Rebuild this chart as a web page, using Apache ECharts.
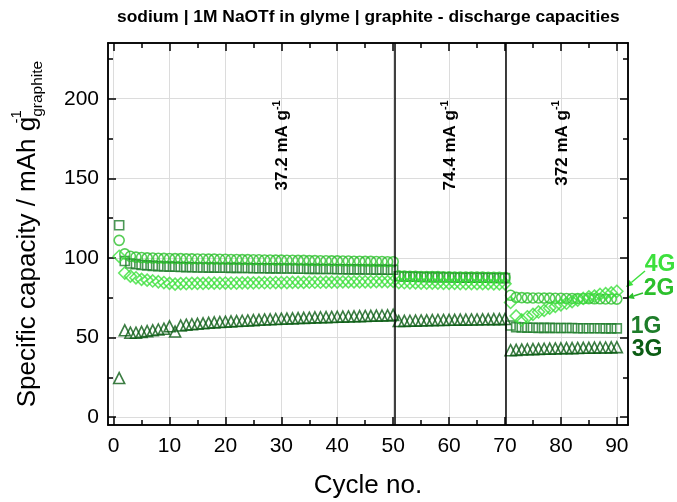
<!DOCTYPE html>
<html><head><meta charset="utf-8">
<script src="https://cdn.jsdelivr.net/npm/echarts@6/dist/echarts.min.js"></script>
<style>html,body{margin:0;padding:0;background:#fff}#c{width:677px;height:502px}</style>
</head><body><div id="c"></div>
<script>
const titleText = 'sodium | 1M NaOTf in glyme | graphite - discharge capacities';
const cycles = [1,2,3,4,5,6,7,8,9,10,11,12,13,14,15,16,17,18,19,20,21,22,23,24,25,26,27,28,29,30,
31,32,33,34,35,36,37,38,39,40,41,42,43,44,45,46,47,48,49,50,51,52,53,54,55,56,57,58,59,60,
61,62,63,64,65,66,67,68,69,70,71,72,73,74,75,76,77,78,79,80,81,82,83,84,85,86,87,88,89,90];
const cap1G = [120.5,98,96.5,96,95.5,95.3,95,94.8,94.6,94.5,
94.4,94.3,94.2,94.1,94,94,93.9,93.9,93.8,93.8,
93.7,93.7,93.6,93.6,93.5,93.5,93.5,93.4,93.4,93.3,
93.3,93.3,93.2,93.2,93.1,93.1,93,93,93,92.9,
92.9,92.8,92.8,92.8,92.7,92.7,92.6,92.6,92.5,92.5,
88.5,88.3,88.2,88.1,88,88,87.9,87.9,87.8,87.8,
87.7,87.7,87.6,87.6,87.5,87.5,87.5,87.4,87.4,87.3,
57.5,56.5,56.3,56.2,56.1,56,56,56,55.9,55.9,
55.9,55.9,55.8,55.8,55.8,55.8,55.8,55.7,55.7,55.7];
const cap2G = [111,102.5,101,100.5,100.2,100,99.9,99.8,99.7,99.6,
99.5,99.5,99.4,99.4,99.3,99.3,99.2,99.2,99.1,99.1,
99,99,98.9,98.9,98.8,98.8,98.7,98.7,98.6,98.6,
98.5,98.5,98.4,98.4,98.3,98.3,98.2,98.2,98.1,98.1,
98,98,97.9,97.9,97.8,97.8,97.7,97.7,97.6,97.6,
88.8,88.6,88.5,88.4,88.3,88.3,88.2,88.2,88.1,88.1,
88,88,88,87.9,87.9,87.9,87.8,87.8,87.8,87.7,
76.5,75.2,75,74.9,74.8,74.8,74.7,74.7,74.6,74.6,
74.5,74.5,74.5,74.4,74.4,74.3,74.3,74.2,74.2,74.1];
const cap3G = [24.5,54.5,53,53,53.5,54,54.5,55,55.5,57,
53.7,57.5,58,58.3,58.6,58.9,59.2,59.5,59.7,59.9,
60.1,60.3,60.5,60.7,60.9,61.1,61.3,61.4,61.6,61.8,
61.9,62,62.2,62.3,62.4,62.6,62.7,62.8,62.9,63,
63.1,63.2,63.3,63.4,63.5,63.6,63.7,63.8,63.9,64.2,
60.3,60.4,60.5,60.6,60.7,60.8,60.9,61,61,61.1,
61.1,61.2,61.2,61.3,61.3,61.4,61.4,61.5,61.5,61.6,
42,42.2,42.4,42.6,42.7,42.8,42.9,43,43.1,43.2,
43.3,43.3,43.4,43.5,43.5,43.6,43.7,43.7,43.8,43.9];
const cap4G = [101,90.5,88.5,87.5,86.5,86,85.5,85,84.5,84,
83.5,83.8,83.9,84,84,84,84.1,84.1,84.1,84.2,
84.2,84.2,84.3,84.3,84.3,84.4,84.4,84.4,84.5,84.5,
84.5,84.6,84.6,84.6,84.7,84.7,84.7,84.8,84.8,84.8,
84.9,84.9,84.9,85,85,85,85.1,85.1,85.1,85.2,
84.5,84.4,84.3,84.3,84.2,84.2,84.1,84.1,84,84,
84,83.9,83.9,83.9,83.8,83.8,83.8,83.7,83.7,83.7,
72,63.5,61,63,64.5,66,67,68.5,69.5,70.5,
71.5,72.5,73.5,74.5,75.5,76,77,77.5,78,79];
const seriesNames = ['1G','2G','3G','4G'];
const rateChangeCycles = [50.2, 70.2];
const rateLabels = ['37.2 mA g', '74.4 mA g', '372 mA g'];
const rateLabelCycles = [30, 60, 80];
const xMajor = [0,10,20,30,40,50,60,70,80,90];
const xMinor = [5,15,25,35,45,55,65,75,85];
const yMajor = [0,50,100,150,200];
const yMinor = [25,75,125,175,225];

const FONT = '"Liberation Sans", Arial, Helvetica, sans-serif';
const C1 = '#1e7d2a', C2 = '#2cc02c', C3 = '#0b5c14', C4 = '#3de03d';
const X_MIN = -1, X_MAX = 92, Y_MIN = -5, Y_MAX = 235;

const chart = echarts.init(document.getElementById('c'));

function mkSeries(name, vals, symbol, size, color, extra) {
  return Object.assign({
    name, type: 'scatter', xAxisIndex: 0, yAxisIndex: 0,
    data: cycles.map((c, i) => [c, vals[i]]),
    symbol, symbolSize: size,
    itemStyle: { color: 'rgba(0,0,0,0)', borderColor: color, borderWidth: 1.6 },
    silent: true, animation: false
  }, extra || {});
}
const lineStyleAx = { color: '#000', width: 1.5 };
function xAx(pos, ticks, len, labels, split) {
  return {
    type: 'value', position: pos, min: X_MIN, max: X_MAX, splitNumber: 9,
    axisLine: { show: true, onZero: false, lineStyle: lineStyleAx },
    axisTick: { show: true, inside: true, length: len, customValues: ticks, lineStyle: lineStyleAx },
    axisLabel: labels ? { show: true, customValues: ticks, margin: 11, color: '#000', fontSize: 21, fontFamily: FONT } : { show: false },
    splitLine: { show: split, lineStyle: { color: '#dcdcdc', width: 1 } },
    minorTick: { show: false }, minorSplitLine: { show: false }
  };
}
function yAx(pos, ticks, len, labels, split) {
  return {
    type: 'value', position: pos, min: Y_MIN, max: Y_MAX, splitNumber: 5,
    axisLine: { show: true, onZero: false, lineStyle: lineStyleAx },
    axisTick: { show: true, inside: true, length: len, customValues: ticks, lineStyle: lineStyleAx },
    axisLabel: labels ? { show: true, customValues: ticks, margin: 9, color: '#000', fontSize: 21, fontFamily: FONT } : { show: false },
    splitLine: { show: split, lineStyle: { color: '#dcdcdc', width: 1 } },
    minorTick: { show: false }, minorSplitLine: { show: false }
  };
}
const xa0 = xAx('bottom', xMajor, 8, true, true);
xa0.name = 'Cycle no.';
xa0.nameLocation = 'middle';
xa0.nameGap = 48;
xa0.nameTextStyle = { fontSize: 26, fontFamily: FONT, color: '#000' };
const ya0 = yAx('left', yMajor, 8, true, true);
ya0.name = '{m|Specific capacity / mAh g}{sup|-1}{sub|graphite}';
ya0.nameLocation = 'middle';
ya0.nameGap = 62;
ya0.nameTextStyle = {
  color: '#000', fontFamily: FONT,
  rich: {
    m: { fontSize: 26, fontFamily: FONT, color: '#000', lineHeight: 37 },
    sup: { fontSize: 15, fontFamily: FONT, color: '#000', verticalAlign: 'top', width: 0 },
    sub: { fontSize: 15.5, fontFamily: FONT, color: '#000', verticalAlign: 'bottom' }
  }
};

const option = {
  animation: false,
  backgroundColor: '#fff',
  title: {
    text: titleText, left: 117, top: 9, padding: 0,
    textStyle: { fontSize: 17.4, fontWeight: 'bold', fontFamily: FONT, color: '#000' }
  },
  grid: { left: 108, right: 49, top: 43, bottom: 77, containLabel: false, outerBoundsMode: 'none' },
  xAxis: [xa0, xAx('bottom', xMinor, 5, false, false), xAx('top', xMajor, 8, false, false), xAx('top', xMinor, 5, false, false)],
  yAxis: [ya0, yAx('left', yMinor, 5, false, false), yAx('right', yMajor, 8, false, false), yAx('right', yMinor, 5, false, false)],
  series: [
    mkSeries(seriesNames[2], cap3G, 'triangle', 11, C3, {
      markLine: {
        silent: true, symbol: ['none', 'none'], animation: false,
        label: { show: false },
        lineStyle: { color: '#000', width: 1.5, type: 'solid' },
        data: rateChangeCycles.map(v => ({ xAxis: v }))
      }
    }),
    mkSeries(seriesNames[0], cap1G, 'rect', 9, C1),
    mkSeries(seriesNames[1], cap2G, 'circle', 10, C2),
    mkSeries(seriesNames[3], cap4G, 'diamond', 12, C4)
  ]
};
chart.setOption(option);

// annotations
const g = [];
rateLabels.forEach((t, i) => {
  const p = chart.convertToPixel({ gridIndex: 0 }, [rateLabelCycles[i], 199]);
  g.push({
    type: 'text', x: p[0] + 1, y: p[1], rotation: Math.PI / 2, silent: true,
    style: {
      text: '{b|' + t + '}{s|-1}', align: 'right', verticalAlign: 'middle',
      rich: {
        b: { fontSize: 17, fontWeight: 'bold', fontFamily: FONT, fill: '#000', lineHeight: 22 },
        s: { fontSize: 11, fontWeight: 'bold', fontFamily: FONT, fill: '#000', verticalAlign: 'top' }
      }
    }
  });
});
const seriesLabels = [
  { t: '4G', x: 660, y: 265, c: C4 },
  { t: '2G', x: 659, y: 289, c: C2 },
  { t: '1G', x: 646, y: 327, c: C1 },
  { t: '3G', x: 647, y: 350, c: C3 }
];
seriesLabels.forEach(s => g.push({
  type: 'text', x: s.x, y: s.y, silent: true,
  style: { text: s.t, fill: s.c, font: 'bold 23px ' + FONT, align: 'center', verticalAlign: 'middle' }
}));
function arrow(x1, y1, x2, y2, color) {
  const dx = x2 - x1, dy = y2 - y1, L = Math.hypot(dx, dy);
  const ux = dx / L, uy = dy / L, hl = 7, hw = 3.2;
  const bx = x2 - ux * hl, by = y2 - uy * hl;
  g.push({ type: 'line', silent: true, shape: { x1, y1, x2: bx, y2: by }, style: { stroke: color, lineWidth: 1.5 } });
  g.push({ type: 'polygon', silent: true, shape: { points: [[x2, y2], [bx - uy * hw, by + ux * hw], [bx + uy * hw, by - ux * hw]] }, style: { fill: color } });
}
arrow(645, 271, 626, 287, C4);
arrow(643, 293, 627, 298, C2);
chart.setOption({ graphic: g });
</script></body></html>
